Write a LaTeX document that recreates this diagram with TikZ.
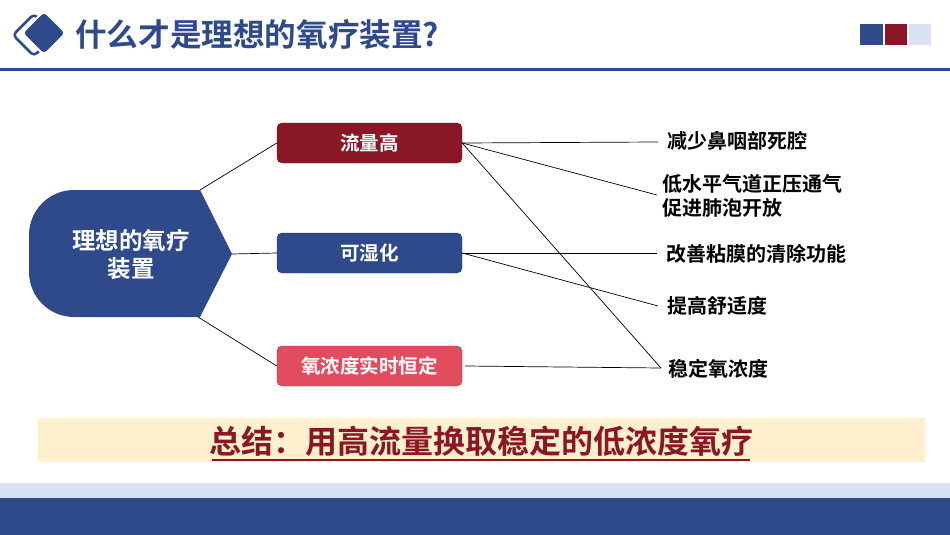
\documentclass[tikz,border=0pt]{standalone}
\usepackage{fontspec}
\newfontfamily\cjk{Noto Sans CJK SC}[BoldFont={Noto Sans CJK SC Bold}]
\definecolor{mblue}{HTML}{2E4A8A}
\definecolor{mred}{HTML}{891726}
\definecolor{mpink}{HTML}{E24C5F}
\definecolor{lblue}{HTML}{DAE3F3}
\definecolor{lyellow}{HTML}{FFF0CD}
\tikzset{
  box/.style={rounded corners=5pt, minimum width=185pt, minimum height=40pt, inner sep=0pt,
    text=white, font=\cjk\bfseries\fontsize{19.5}{23}\selectfont},
  lbl/.style={anchor=west, inner sep=0pt, align=left, text=black,
    font=\cjk\bfseries\fontsize{20}{24}\selectfont},
  conn/.style={draw=black, line width=0.7pt}
}
\begin{document}
\begin{tikzpicture}[x=1pt,y=-1pt]
\useasboundingbox (0,0) rectangle (950,535);
% header
\draw[mblue, line width=2.5pt, rounded corners=4pt] (13,35) -- (34,14) -- (55,35) -- (34,56) -- cycle;
\filldraw[fill=mblue, draw=white, line width=2pt, rounded corners=4pt] (22,33) -- (44,11) -- (66,33) -- (44,55) -- cycle;
\node[anchor=west, inner sep=0pt, text=mblue, font=\cjk\bfseries\fontsize{31.6}{36}\selectfont] (title) at (75,35) {什么才是理想的氧疗装置?};
\fill[mblue] (0,68.5) rectangle (950,71.5);
\fill[mblue] (860,24) rectangle (883,45);
\fill[mred] (885,24) rectangle (907,45);
\fill[lblue] (909,24) rectangle (931,45);
% main shape
\fill[mblue] (200,190) -- (232,254) -- (200,317) [rounded corners=45pt] -- (29,317) -- (29,190) [sharp corners] -- cycle;
\node[text=white, align=center, font=\cjk\bfseries\fontsize{23.5}{28}\selectfont] (main) at (131,255) {理想的氧疗\\装置};
\coordinate (mt) at (200,190);
\coordinate (mm) at (232,254);
\coordinate (mb) at (198,317);
% boxes
\node[box, fill=mred, draw=mred!80!black] (b1) at (369.5,143) {流量高};
\node[box, fill=mblue, draw=mblue!80!black] (b2) at (369.5,253) {可湿化};
\node[box, fill=mpink, draw=mpink!75!black] (b3) at (369.5,366) {氧浓度实时恒定};
% right labels
\node[lbl] (r1) at (667,141) {减少鼻咽部死腔};
\node[lbl] (r2) at (662,196) {低水平气道正压通气\\促进肺泡开放};
\node[lbl] (r3) at (666,254) {改善粘膜的清除功能};
\node[lbl] (r4) at (667,306) {提高舒适度};
\node[lbl] (r5) at (668,369) {稳定氧浓度};
\coordinate (e1) at (658,142);
\coordinate (e2) at (657,195);
\coordinate (e3) at (657,253);
\coordinate (e4) at (658,306);
\coordinate (e5) at (661,368);
% connectors
\draw[conn] (mt) -- (b1.west);
\draw[conn] (mm) -- (b2.west);
\draw[conn] (mb) -- (b3.west);
\draw[conn] (b1.east) -- (e1);
\draw[conn] (b1.east) -- (e2);
\draw[conn] (b1.east) -- (e5);
\draw[conn] (b2.east) -- (e3);
\draw[conn] (b2.east) -- (e4);
\draw[conn] ([xshift=3pt]b3.east) -- (e5);
% summary
\fill[lyellow] (38,418) rectangle (925,462);
\node[inner sep=0pt, text=mred, font=\cjk\bfseries\fontsize{32}{36}\selectfont] (sum) at (481,441) {总结：用高流量换取稳定的低浓度氧疗};
\draw[mred, line width=2pt] (212,459.5) -- (750,459.5);
% footer
\fill[lblue] (0,483) rectangle (950,498);
\fill[mblue] (0,498) rectangle (950,535);
\end{tikzpicture}
\end{document}
